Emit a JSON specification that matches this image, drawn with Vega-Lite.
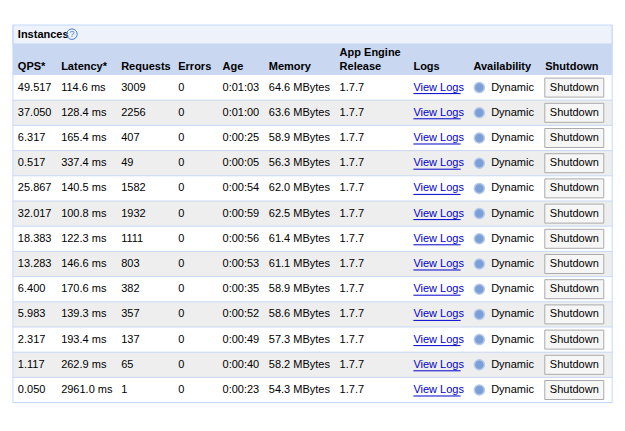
{
  "$schema": "https://vega.github.io/schema/vega-lite/v6.json",
  "width": 625,
  "height": 431,
  "autosize": {"type": "fit", "contains": "padding"},
  "padding": 0,
  "background": "white",
  "config": {"view": {"stroke": null}, "axis": {"disable": true}, "text": {"font": "Liberation Sans", "fontSize": 11, "align": "left", "baseline": "middle", "color": "#000"}},
  "data": {
    "values": [
      {"row": 0, "qps": "49.517", "latency": "114.6 ms", "requests": 3009, "errors": 0, "age": "0:01:03", "memory": "64.6 MBytes", "release": "1.7.7"},
      {"row": 1, "qps": "37.050", "latency": "128.4 ms", "requests": 2256, "errors": 0, "age": "0:01:00", "memory": "63.6 MBytes", "release": "1.7.7"},
      {"row": 2, "qps": "6.317", "latency": "165.4 ms", "requests": 407, "errors": 0, "age": "0:00:25", "memory": "58.9 MBytes", "release": "1.7.7"},
      {"row": 3, "qps": "0.517", "latency": "337.4 ms", "requests": 49, "errors": 0, "age": "0:00:05", "memory": "56.3 MBytes", "release": "1.7.7"},
      {"row": 4, "qps": "25.867", "latency": "140.5 ms", "requests": 1582, "errors": 0, "age": "0:00:54", "memory": "62.0 MBytes", "release": "1.7.7"},
      {"row": 5, "qps": "32.017", "latency": "100.8 ms", "requests": 1932, "errors": 0, "age": "0:00:59", "memory": "62.5 MBytes", "release": "1.7.7"},
      {"row": 6, "qps": "18.383", "latency": "122.3 ms", "requests": 1111, "errors": 0, "age": "0:00:56", "memory": "61.4 MBytes", "release": "1.7.7"},
      {"row": 7, "qps": "13.283", "latency": "146.6 ms", "requests": 803, "errors": 0, "age": "0:00:53", "memory": "61.1 MBytes", "release": "1.7.7"},
      {"row": 8, "qps": "6.400", "latency": "170.6 ms", "requests": 382, "errors": 0, "age": "0:00:35", "memory": "58.9 MBytes", "release": "1.7.7"},
      {"row": 9, "qps": "5.983", "latency": "139.3 ms", "requests": 357, "errors": 0, "age": "0:00:52", "memory": "58.6 MBytes", "release": "1.7.7"},
      {"row": 10, "qps": "2.317", "latency": "193.4 ms", "requests": 137, "errors": 0, "age": "0:00:49", "memory": "57.3 MBytes", "release": "1.7.7"},
      {"row": 11, "qps": "1.117", "latency": "262.9 ms", "requests": 65, "errors": 0, "age": "0:00:40", "memory": "58.2 MBytes", "release": "1.7.7"},
      {"row": 12, "qps": "0.050", "latency": "2961.0 ms", "requests": 1, "errors": 0, "age": "0:00:23", "memory": "54.3 MBytes", "release": "1.7.7"}
    ]
  },
  "layer": [
    {
      "mark": {"type": "rule", "strokeWidth": 25.2},
      "encoding": {
        "x": {"datum": 5, "type": "quantitative", "scale": {"domain": [0, 625], "nice": false, "zero": false}},
        "x2": {"datum": 614},
        "y": {"field": "row", "type": "quantitative", "scale": {"domain": [-3.476, 13.627], "reverse": true, "nice": false, "zero": false}},
        "color": {"condition": {"test": "datum.row % 2 == 1", "value": "#eeeeee"}, "value": "#ffffff"}
      }
    },
    {
      "mark": {"type": "rule", "strokeWidth": 1, "color": "#c9d7f1", "yOffset": 12.6},
      "encoding": {"x": {"datum": 5, "type": "quantitative"}, "x2": {"datum": 614}, "y": {"field": "row", "type": "quantitative"}}
    },
    {
      "data": {"values": [{}]},
      "mark": {"type": "rect", "fill": "#eef2fb", "stroke": "#c3d9ff", "strokeWidth": 1},
      "encoding": {"x": {"datum": 5, "type": "quantitative"}, "x2": {"datum": 614}, "y": {"datum": -2.484, "type": "quantitative"}, "y2": {"datum": -1.73}}
    },
    {
      "data": {"values": [{}]},
      "mark": {"type": "rect", "fill": "#c9d7f1"},
      "encoding": {"x": {"datum": 5, "type": "quantitative"}, "x2": {"datum": 614}, "y": {"datum": -1.73, "type": "quantitative"}, "y2": {"datum": -0.5}}
    },
    {
      "data": {"values": [{}]},
      "mark": {"type": "rule", "color": "#c3d9ff"},
      "encoding": {"x": {"datum": 5, "type": "quantitative"}, "y": {"datum": -2.484, "type": "quantitative"}, "y2": {"datum": 12.5}}
    },
    {
      "data": {"values": [{}]},
      "mark": {"type": "rule", "color": "#c3d9ff"},
      "encoding": {"x": {"datum": 614, "type": "quantitative"}, "y": {"datum": -2.484, "type": "quantitative"}, "y2": {"datum": 12.5}}
    },
    {
      "data": {"values": [{}]},
      "mark": {"type": "rule", "color": "#c3d9ff"},
      "encoding": {"x": {"datum": 5, "type": "quantitative"}, "x2": {"datum": 614}, "y": {"datum": 12.5, "type": "quantitative"}}
    },
    {
      "data": {"values": [{}]},
      "mark": {"type": "text", "fontWeight": "bold", "text": "Instances"},
      "encoding": {"x": {"datum": 10, "type": "quantitative"}, "y": {"datum": -2.087, "type": "quantitative"}}
    },
    {
      "data": {"values": [{}]},
      "mark": {"type": "point", "shape": "circle", "size": 110, "filled": false, "stroke": "#4a7fd0", "strokeWidth": 1, "opacity": 1},
      "encoding": {"x": {"datum": 65, "type": "quantitative"}, "y": {"datum": -2.12, "type": "quantitative"}}
    },
    {
      "data": {"values": [{}]},
      "mark": {"type": "text", "align": "center", "fontSize": 9, "color": "#4a7fd0", "text": "?"},
      "encoding": {"x": {"datum": 65, "type": "quantitative"}, "y": {"datum": -2.12, "type": "quantitative"}}
    },
    {"data": {"values": [{}]}, "mark": {"type": "text", "fontWeight": "bold", "text": "QPS*"}, "encoding": {"x": {"datum": 10, "type": "quantitative"}, "y": {"datum": -0.817, "type": "quantitative"}}},
    {"data": {"values": [{}]}, "mark": {"type": "text", "fontWeight": "bold", "text": "Latency*"}, "encoding": {"x": {"datum": 54, "type": "quantitative"}, "y": {"datum": -0.817, "type": "quantitative"}}},
    {"data": {"values": [{}]}, "mark": {"type": "text", "fontWeight": "bold", "text": "Requests"}, "encoding": {"x": {"datum": 115, "type": "quantitative"}, "y": {"datum": -0.817, "type": "quantitative"}}},
    {"data": {"values": [{}]}, "mark": {"type": "text", "fontWeight": "bold", "text": "Errors"}, "encoding": {"x": {"datum": 173, "type": "quantitative"}, "y": {"datum": -0.817, "type": "quantitative"}}},
    {"data": {"values": [{}]}, "mark": {"type": "text", "fontWeight": "bold", "text": "Age"}, "encoding": {"x": {"datum": 218, "type": "quantitative"}, "y": {"datum": -0.817, "type": "quantitative"}}},
    {"data": {"values": [{}]}, "mark": {"type": "text", "fontWeight": "bold", "text": "Memory"}, "encoding": {"x": {"datum": 265, "type": "quantitative"}, "y": {"datum": -0.817, "type": "quantitative"}}},
    {"data": {"values": [{}]}, "mark": {"type": "text", "fontWeight": "bold", "text": "App Engine"}, "encoding": {"x": {"datum": 337, "type": "quantitative"}, "y": {"datum": -1.373, "type": "quantitative"}}},
    {"data": {"values": [{}]}, "mark": {"type": "text", "fontWeight": "bold", "text": "Release"}, "encoding": {"x": {"datum": 337, "type": "quantitative"}, "y": {"datum": -0.817, "type": "quantitative"}}},
    {"data": {"values": [{}]}, "mark": {"type": "text", "fontWeight": "bold", "text": "Logs"}, "encoding": {"x": {"datum": 412, "type": "quantitative"}, "y": {"datum": -0.817, "type": "quantitative"}}},
    {"data": {"values": [{}]}, "mark": {"type": "text", "fontWeight": "bold", "text": "Availability"}, "encoding": {"x": {"datum": 473, "type": "quantitative"}, "y": {"datum": -0.817, "type": "quantitative"}}},
    {"data": {"values": [{}]}, "mark": {"type": "text", "fontWeight": "bold", "text": "Shutdown"}, "encoding": {"x": {"datum": 546, "type": "quantitative"}, "y": {"datum": -0.817, "type": "quantitative"}}},
    {"mark": "text", "encoding": {"x": {"datum": 10, "type": "quantitative"}, "y": {"field": "row", "type": "quantitative"}, "text": {"field": "qps"}}},
    {"mark": "text", "encoding": {"x": {"datum": 54, "type": "quantitative"}, "y": {"field": "row", "type": "quantitative"}, "text": {"field": "latency"}}},
    {"mark": "text", "encoding": {"x": {"datum": 115, "type": "quantitative"}, "y": {"field": "row", "type": "quantitative"}, "text": {"field": "requests"}}},
    {"mark": "text", "encoding": {"x": {"datum": 173, "type": "quantitative"}, "y": {"field": "row", "type": "quantitative"}, "text": {"field": "errors"}}},
    {"mark": "text", "encoding": {"x": {"datum": 218, "type": "quantitative"}, "y": {"field": "row", "type": "quantitative"}, "text": {"field": "age"}}},
    {"mark": "text", "encoding": {"x": {"datum": 265, "type": "quantitative"}, "y": {"field": "row", "type": "quantitative"}, "text": {"field": "memory"}}},
    {"mark": "text", "encoding": {"x": {"datum": 337, "type": "quantitative"}, "y": {"field": "row", "type": "quantitative"}, "text": {"field": "release"}}},
    {"mark": {"type": "text", "text": "View Logs", "color": "#0000cc"}, "encoding": {"x": {"datum": 412, "type": "quantitative"}, "y": {"field": "row", "type": "quantitative"}}},
    {"mark": {"type": "rule", "color": "#0000cc", "yOffset": 6}, "encoding": {"x": {"datum": 412, "type": "quantitative"}, "x2": {"datum": 460}, "y": {"field": "row", "type": "quantitative"}}},
    {"mark": {"type": "point", "shape": "circle", "size": 100, "filled": true, "fill": "#7c9fd8", "stroke": "#b5c9ea", "strokeWidth": 1.5, "opacity": 1}, "encoding": {"x": {"datum": 479, "type": "quantitative"}, "y": {"field": "row", "type": "quantitative"}}},
    {"mark": {"type": "text", "text": "Dynamic"}, "encoding": {"x": {"datum": 491, "type": "quantitative"}, "y": {"field": "row", "type": "quantitative"}}},
    {"mark": {"type": "point", "shape": "M-1,-0.322H1V0.322H-1Z", "size": 3481, "filled": true, "fill": "#f6f6f6", "stroke": "#aaaaaa", "strokeWidth": 1, "opacity": 1}, "encoding": {"x": {"datum": 575.5, "type": "quantitative"}, "y": {"field": "row", "type": "quantitative"}}},
    {"mark": {"type": "text", "text": "Shutdown", "align": "center"}, "encoding": {"x": {"datum": 575.5, "type": "quantitative"}, "y": {"field": "row", "type": "quantitative"}}}
  ]
}
